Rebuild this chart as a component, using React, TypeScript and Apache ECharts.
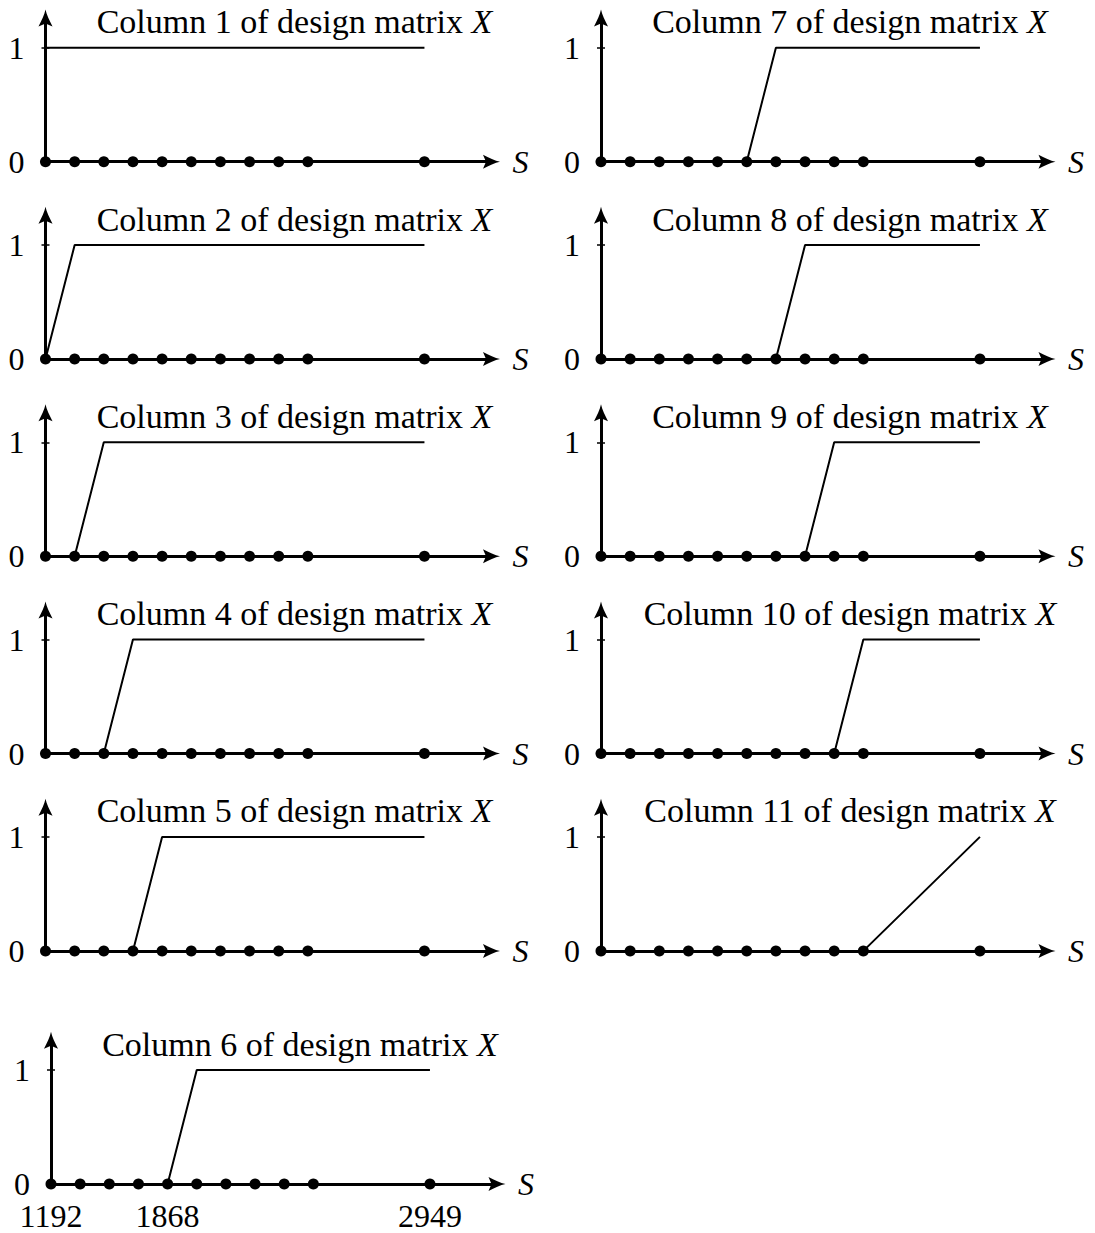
import React, { useEffect, useRef } from "react";
import * as echarts from "echarts";

// Schematic x-positions of the 11 knots (sorted S values) on every panel
const knotX = [0, 1, 2, 3, 4, 5, 6, 7, 8, 9, 13];
// Tick labels shown under the bottom panel
const xLabelPositions = [0, 4, 13];
const xLabelTexts = ["1192", "1868", "2949"];
const yLabelValues = [0, 1];

// Value of each design-matrix column at each knot
const col1 = [1, 1, 1, 1, 1, 1, 1, 1, 1, 1, 1];
const col2 = [0, 1, 1, 1, 1, 1, 1, 1, 1, 1, 1];
const col3 = [0, 0, 1, 1, 1, 1, 1, 1, 1, 1, 1];
const col4 = [0, 0, 0, 1, 1, 1, 1, 1, 1, 1, 1];
const col5 = [0, 0, 0, 0, 1, 1, 1, 1, 1, 1, 1];
const col6 = [0, 0, 0, 0, 0, 1, 1, 1, 1, 1, 1];
const col7 = [0, 0, 0, 0, 0, 0, 1, 1, 1, 1, 1];
const col8 = [0, 0, 0, 0, 0, 0, 0, 1, 1, 1, 1];
const col9 = [0, 0, 0, 0, 0, 0, 0, 0, 1, 1, 1];
const col10 = [0, 0, 0, 0, 0, 0, 0, 0, 0, 1, 1];
const col11 = [0, 0, 0, 0, 0, 0, 0, 0, 0, 0, 1];
const columns = [col1, col2, col3, col4, col5, col6, col7, col8, col9, col10, col11];

// Layout (pixel origin of each panel)
const LEFT_X = 45.5;
const RIGHT_X = 601;
const BOTTOM_X = 51;
const ROW_Y = [161.7, 359, 556.3, 753.6, 950.9];
const BOTTOM_Y = 1184;
const UNIT_X = 29.15;
const UNIT_Y = 114;
const X_MAX = 15.3;
const Y_MAX = 1.26;

const FONT = "Liberation Serif, DejaVu Serif, serif";
const FS = 32;
const TFS = 34;
const ARROW = "path://M7,0 C8,5 11,11 14,17 L7,14 L0,17 C3,11 6,5 7,0 Z";

function panelOrigin(i: number) {
  if (i < 5) return { ox: LEFT_X, oy: ROW_Y[i], bottom: false };
  if (i === 5) return { ox: BOTTOM_X, oy: BOTTOM_Y, bottom: true };
  return { ox: RIGHT_X, oy: ROW_Y[i - 6], bottom: false };
}

export default function App() {
  const ref = useRef<HTMLDivElement>(null);
  useEffect(() => {
    if (!ref.current) return;
    const chart = echarts.init(ref.current, undefined, { renderer: "svg" });
    const grids: any[] = [];
    const xAxes: any[] = [];
    const yAxes: any[] = [];
    const series: any[] = [];
    const titles: any[] = [];
    const axisLineStyle = { color: "#000", width: 3 };

    columns.forEach((vals, i) => {
      const { ox, oy, bottom } = panelOrigin(i);
      grids.push({
        left: ox,
        top: oy - Y_MAX * UNIT_Y,
        width: X_MAX * UNIT_X,
        height: Y_MAX * UNIT_Y,
        containLabel: false,
        outerBoundsMode: "none",
      });
      xAxes.push({
        gridIndex: i,
        type: "value",
        min: 0,
        max: X_MAX,
        axisLine: {
          show: true,
          onZero: false,
          symbol: ["none", ARROW],
          symbolSize: [15, 17],
          lineStyle: axisLineStyle,
        },
        axisTick: { show: false },
        splitLine: { show: false },
        axisLabel: bottom
          ? {
              show: true,
              customValues: xLabelPositions,
              formatter: (v: number) => xLabelTexts[xLabelPositions.indexOf(v)] ?? "",
              margin: 19,
              lineHeight: 26,
              color: "#000",
              fontFamily: FONT,
              fontSize: FS,
            }
          : { show: false },
        name: "S",
        nameLocation: "end",
        nameGap: 21,
        nameTextStyle: {
          fontStyle: "italic",
          fontFamily: FONT,
          fontSize: FS,
          color: "#000",
          verticalAlign: "middle",
        },
      });
      yAxes.push({
        gridIndex: i,
        type: "value",
        min: 0,
        max: Y_MAX,
        position: "left",
        axisLine: {
          show: true,
          onZero: false,
          symbol: ["none", ARROW],
          symbolSize: [15, 17],
          lineStyle: axisLineStyle,
        },
        axisTick: { show: true, customValues: [1], length: 4, lineStyle: { color: "#000", width: 1.5 } },
        axisLabel: {
          customValues: yLabelValues,
          margin: 21,
          lineHeight: 24,
          color: "#000",
          fontFamily: FONT,
          fontSize: FS,
        },
        splitLine: { show: false },
      });
      yAxes.push({
        gridIndex: i,
        type: "value",
        min: 0,
        max: Y_MAX,
        position: "left",
        axisLine: { show: false },
        axisTick: {
          show: true,
          inside: true,
          customValues: [1],
          length: 4,
          lineStyle: { color: "#000", width: 1.5 },
        },
        axisLabel: { show: false },
        splitLine: { show: false },
      });
      series.push({
        type: "line",
        xAxisIndex: i,
        yAxisIndex: i * 2,
        data: knotX.map((x, j) => [x, vals[j]]),
        symbol: "none",
        lineStyle: { color: "#000", width: 2 },
        z: 3,
        silent: true,
      });
      series.push({
        type: "scatter",
        xAxisIndex: i,
        yAxisIndex: i * 2,
        data: knotX.map((x) => [x, 0]),
        symbolSize: 11,
        itemStyle: { color: "#000", opacity: 1 },
        z: 4,
        silent: true,
      });
      titles.push({
        text: `Column ${i + 1} of design matrix {x|X}`,
        left: ox + 249,
        top: oy - 157,
        textAlign: "center",
        padding: 0,
        textStyle: {
          fontFamily: FONT,
          fontSize: TFS,
          fontWeight: "normal",
          color: "#000",
          rich: {
            x: { fontStyle: "italic", fontFamily: FONT, fontSize: TFS, color: "#000" },
          },
        },
      });
    });

    chart.setOption({
      animation: false,
      backgroundColor: "#fff",
      title: titles,
      grid: grids,
      xAxis: xAxes,
      yAxis: yAxes,
      series,
    });
    return () => chart.dispose();
  }, []);
  return (
    <div
      ref={ref}
      style={{ position: "fixed", left: 0, top: 0, width: 1095, height: 1233, background: "#fff" }}
    />
  );
}
